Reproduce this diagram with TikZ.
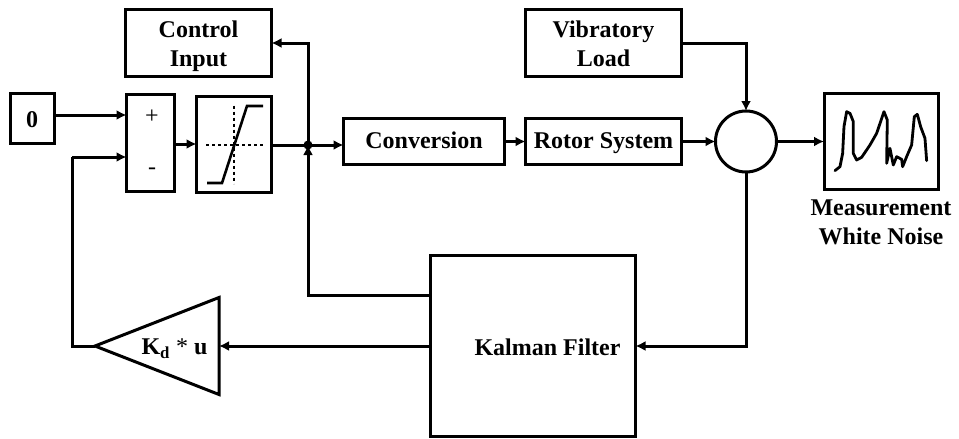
\documentclass[tikz,border=0pt]{standalone}
\usepackage{fontspec}
\setmainfont{Liberation Serif}
\usetikzlibrary{arrows.meta,shapes.geometric,calc}
\tikzset{
  wire/.style={line width=3pt,-{Latex[length=10pt,width=10pt]}},
  blockbox/.style={draw,line width=3pt,outer sep=0pt,inner sep=0pt,align=center,
    font=\fontsize{24}{29}\selectfont\bfseries},
  oneline/.style={text height=14pt,text depth=0pt},
  caption/.style={inner sep=0pt,align=center,font=\fontsize{24}{29}\selectfont\bfseries}
}
\begin{document}
\begin{tikzpicture}[x=1pt,y=-1pt]
\useasboundingbox (0,0) rectangle (959,439);
\node[draw,line width=3pt,outer sep=0pt,minimum width=146pt,minimum height=67pt] (control) at (198.5,43) {};
\node[caption] (controltext) at (198.5,46) {Control\\Input};
\node[blockbox,minimum width=44pt,minimum height=50pt] (zero) at (32,118.5) {};
\node[caption] (zerotext) at (32,120) {0};
\node[blockbox,minimum width=48pt,minimum height=97pt] (sum) at (150.5,143) {};
\node[font=\fontsize{24}{24}\selectfont,inner sep=0pt] (plus) at (152,117) {+};
\node[font=\fontsize{24}{24}\selectfont,inner sep=0pt] (minus) at (152,171) {-};
\node[blockbox,minimum width=75pt,minimum height=96pt] (sat) at (234,144.5) {};
\node[blockbox,oneline,minimum width=161pt,minimum height=46pt] (conv) at (424,141.5) {Conversion};
\node[blockbox,oneline,minimum width=156pt,minimum height=46pt] (rotor) at (603.5,141.5) {Rotor System};
\node[draw,line width=3pt,outer sep=0pt,minimum width=156pt,minimum height=67pt] (vib) at (603.5,43) {};
\node[caption] (vibtext) at (603.5,44) {Vibratory\\Load};
\node[draw,circle,line width=3pt,outer sep=0pt,inner sep=0pt,minimum size=61pt] (mix) at (746,141.5) {};
\node[blockbox,minimum width=114pt,minimum height=96pt] (scope) at (881,141.5) {};
\node[caption] (noise) at (881,222.5) {Measurement\\White Noise};
\node[draw,line width=3pt,outer sep=0pt,minimum width=205pt,minimum height=181pt] (kalman) at (533,346) {};
\node[caption] (kalmantext) at (547.5,347) {Kalman Filter};
\node[draw,isosceles triangle,isosceles triangle stretches,shape border rotate=180,
  line width=3pt,outer sep=0pt,inner sep=0pt,minimum width=97pt,minimum height=124pt,anchor=apex] (gain) at (95,346) {};
\node[caption] (gaintext) at (174.5,349) {K\textsubscript{d} {\mdseries *} u};
% saturation glyph
\draw[line width=2pt,dashed] ($(sat.center)+(-28,0)$) -- ($(sat.center)+(29,0)$);
\draw[line width=2pt,dashed] ($(sat.center)+(0,-39)$) -- ($(sat.center)+(0,39)$);
\draw[line width=2.6pt] ($(sat.center)+(-27,38.5)$) -- ($(sat.center)+(-12,38.5)$) -- ($(sat.center)+(13,-38.5)$) -- ($(sat.center)+(29,-38.5)$);
% noise trace
\begin{scope}[shift={(680,70)},x=0.3333pt,y=-0.3333pt]
\draw[line width=2.8pt,line join=round,line cap=round] (465,302)--(480,290)--(488,250)--(492,170)--(500,125)--(510,130)--(520,155)--(520,250)--(530,270)--(545,262)--(570,225)--(590,190)--(612,125)--(622,150)--(620,280)--(630,235)--(640,285)--(650,260)--(665,268)--(668,290)--(680,260)--(695,225)--(703,140)--(712,133)--(722,170)--(735,205)--(740,272);
\end{scope}
% routing points
\coordinate (junction) at (308,145);
\coordinate (ctrlbend) at (308,43);
\coordinate (fbbend) at (308,295);
\coordinate (vibbend) at (746,43);
\coordinate (kalbend) at (746,346);
\coordinate (gbend) at (72,346);
\coordinate (gbend2) at (72,157);
% connectors
\draw[wire] (zero.east |- 0,115) -- (sum.west |- 0,115);
\draw[wire] (sum.east |- 0,144) -- (sat.west |- 0,144);
\draw[wire] (sat.east |- junction) -- (conv.west |- junction);
\draw[wire] (junction) -- (ctrlbend) -- (control.east |- ctrlbend);
\draw[wire] (kalman.west |- fbbend) -- (fbbend) -- (junction);
\fill (junction) circle (4.5pt);
\draw[wire] (conv.east) -- (rotor.west);
\draw[wire] (rotor.east) -- (mix.west);
\draw[wire] (mix.east) -- (scope.west);
\draw[wire] (vib.east |- vibbend) -- (vibbend) -- (mix.north);
\draw[wire] (mix.south) -- (kalbend) -- (kalman.east |- kalbend);
\draw[wire] (kalman.west |- kalbend) -- (gain.lower side);
\draw[line width=3pt,line join=miter] (gain.apex) -- (gbend) -- (gbend2);
\draw[wire] (gbend2) -- (sum.west |- gbend2);
\end{tikzpicture}
\end{document}
